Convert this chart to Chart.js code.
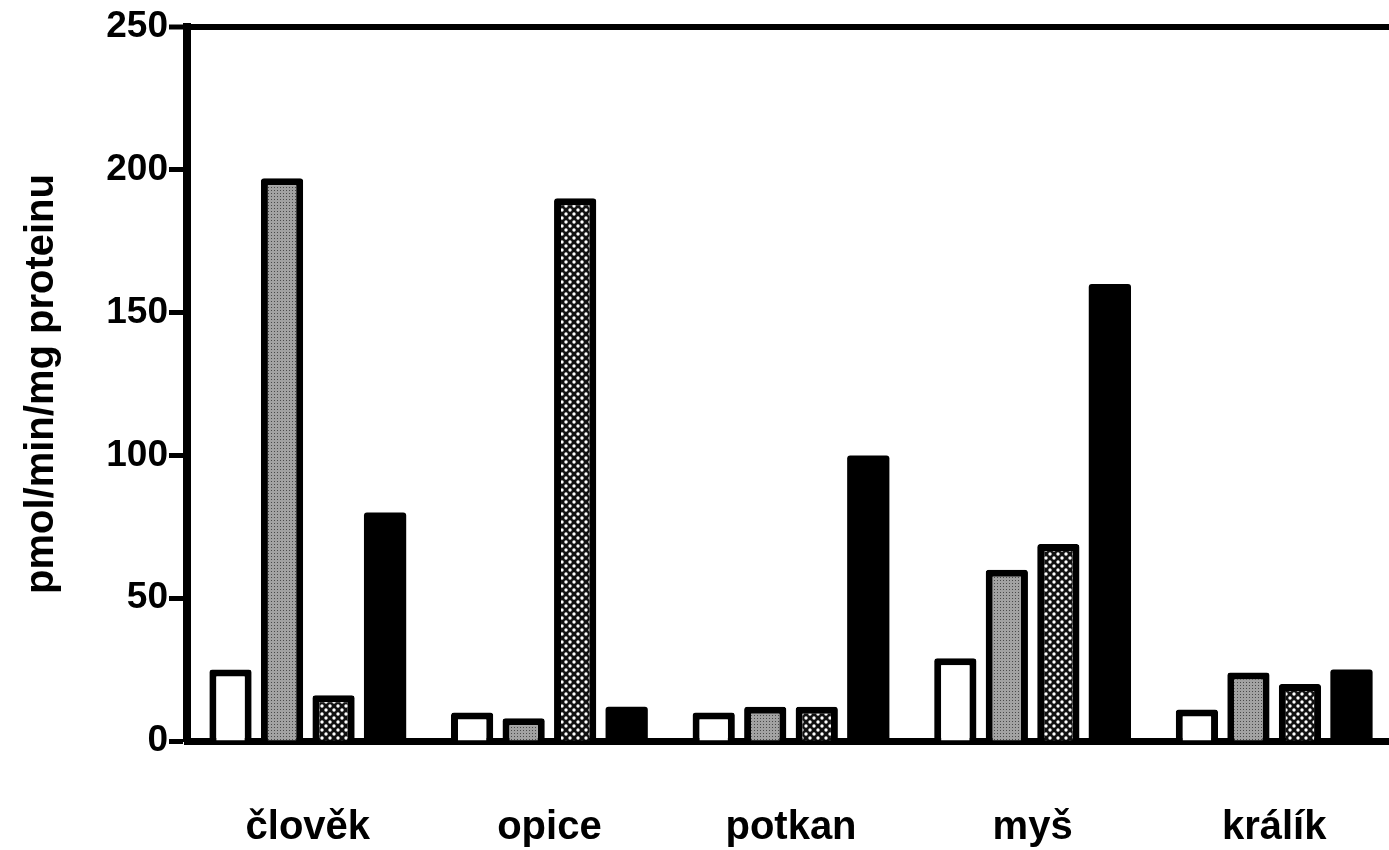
<!DOCTYPE html>
<html>
<head>
<meta charset="utf-8">
<script src="https://cdn.jsdelivr.net/npm/chart.js@4.4.1/dist/chart.umd.min.js"></script>
<style>
  html, body { margin: 0; padding: 0; background: #fff; overflow: hidden; }
  #wrap { position: absolute; left: 0; top: 0; width: 1400px; height: 850px; }
</style>
</head>
<body>
<div id="wrap"><canvas id="chart-canvas"></canvas></div>
<script>
const categories = ['člověk', 'opice', 'potkan', 'myš', 'králík']
const whiteValues = [25, 10, 10, 29, 11]
const grayValues = [197, 8, 12, 60, 24]
const dottedValues = [16, 190, 12, 69, 20]
const blackValues = [80, 12, 100, 160, 25]
const yTicks = [0, 50, 100, 150, 200, 250]
const yTitle = 'pmol/min/mg proteinu'

// small tiles for the printed fills
function makePattern(size, draw) {
  const c = document.createElement('canvas')
  c.width = size
  c.height = size
  const g = c.getContext('2d')
  draw(g)
  return g.createPattern(c, 'repeat')
}

const grayFill = makePattern(3, g => {
  g.fillStyle = '#a2a2a2'
  g.fillRect(0, 0, 3, 3)
  g.fillStyle = '#4a4a4a'
  g.fillRect(1, 1, 1, 1)
})

const dotFill = makePattern(8, g => {
  g.fillStyle = '#111'
  g.fillRect(0, 0, 8, 8)
  g.fillStyle = '#fff'
  g.beginPath()
  g.arc(2, 2, 1.7, 0, Math.PI * 2)
  g.fill()
  g.beginPath()
  g.arc(6, 6, 1.7, 0, Math.PI * 2)
  g.fill()
})

function bar(values, fill, border) {
  return {
    data: values,
    backgroundColor: fill,
    borderColor: '#000',
    borderWidth: border,
    borderRadius: 3,
    categoryPercentage: 0.853,
    barPercentage: 0.82
  }
}

Chart.defaults.font.family = "'Liberation Sans', Arial, sans-serif"
Chart.defaults.font.weight = 'bold'
Chart.defaults.color = '#000'

const ctx = document.querySelector('#chart-canvas')
new Chart(ctx, {
  type: 'bar',
  data: {
    labels: categories,
    datasets: [
      bar(whiteValues, '#fff', 7),
      bar(grayValues, grayFill, 7),
      bar(dottedValues, dotFill, 7),
      bar(blackValues, '#000', 0)
    ]
  },
  options: {
    responsive: true,
    maintainAspectRatio: false,
    devicePixelRatio: 1,
    animation: false,
    layout: { padding: { top: 27, right: 5, left: 0, bottom: 0 } },
    plugins: { legend: { display: false }, tooltip: { enabled: false } },
    scales: {
      x: {
        z: 1,
        grid: { display: false, drawTicks: false },
        border: { display: true, color: '#000', width: 7 },
        ticks: { padding: 63, font: { size: 40, weight: 'bold' } },
        afterFit: s => { s.height = 109 }
      },
      y: {
        min: 0,
        max: 250,
        afterBuildTicks: s => { s.ticks = yTicks.map(v => ({ value: v })) },
        grid: {
          color: c => (c.tick && c.tick.value === 250 ? '#000' : 'rgba(0,0,0,0)'),
          lineWidth: c => (c.tick && c.tick.value === 250 ? 6 : 1),
          tickColor: '#000',
          tickWidth: 5,
          tickLength: 18
        },
        border: { display: true, color: '#000', width: 8 },
        ticks: { padding: 1, font: { size: 37, weight: 'bold' } },
        title: {
          display: true,
          text: yTitle,
          padding: { top: 18, bottom: 0 },
          font: { size: 40, weight: 'bold', lineHeight: 1.2 }
        },
        afterFit: s => { s.width = 187 }
      }
    }
  }
})
</script>
</body>
</html>
